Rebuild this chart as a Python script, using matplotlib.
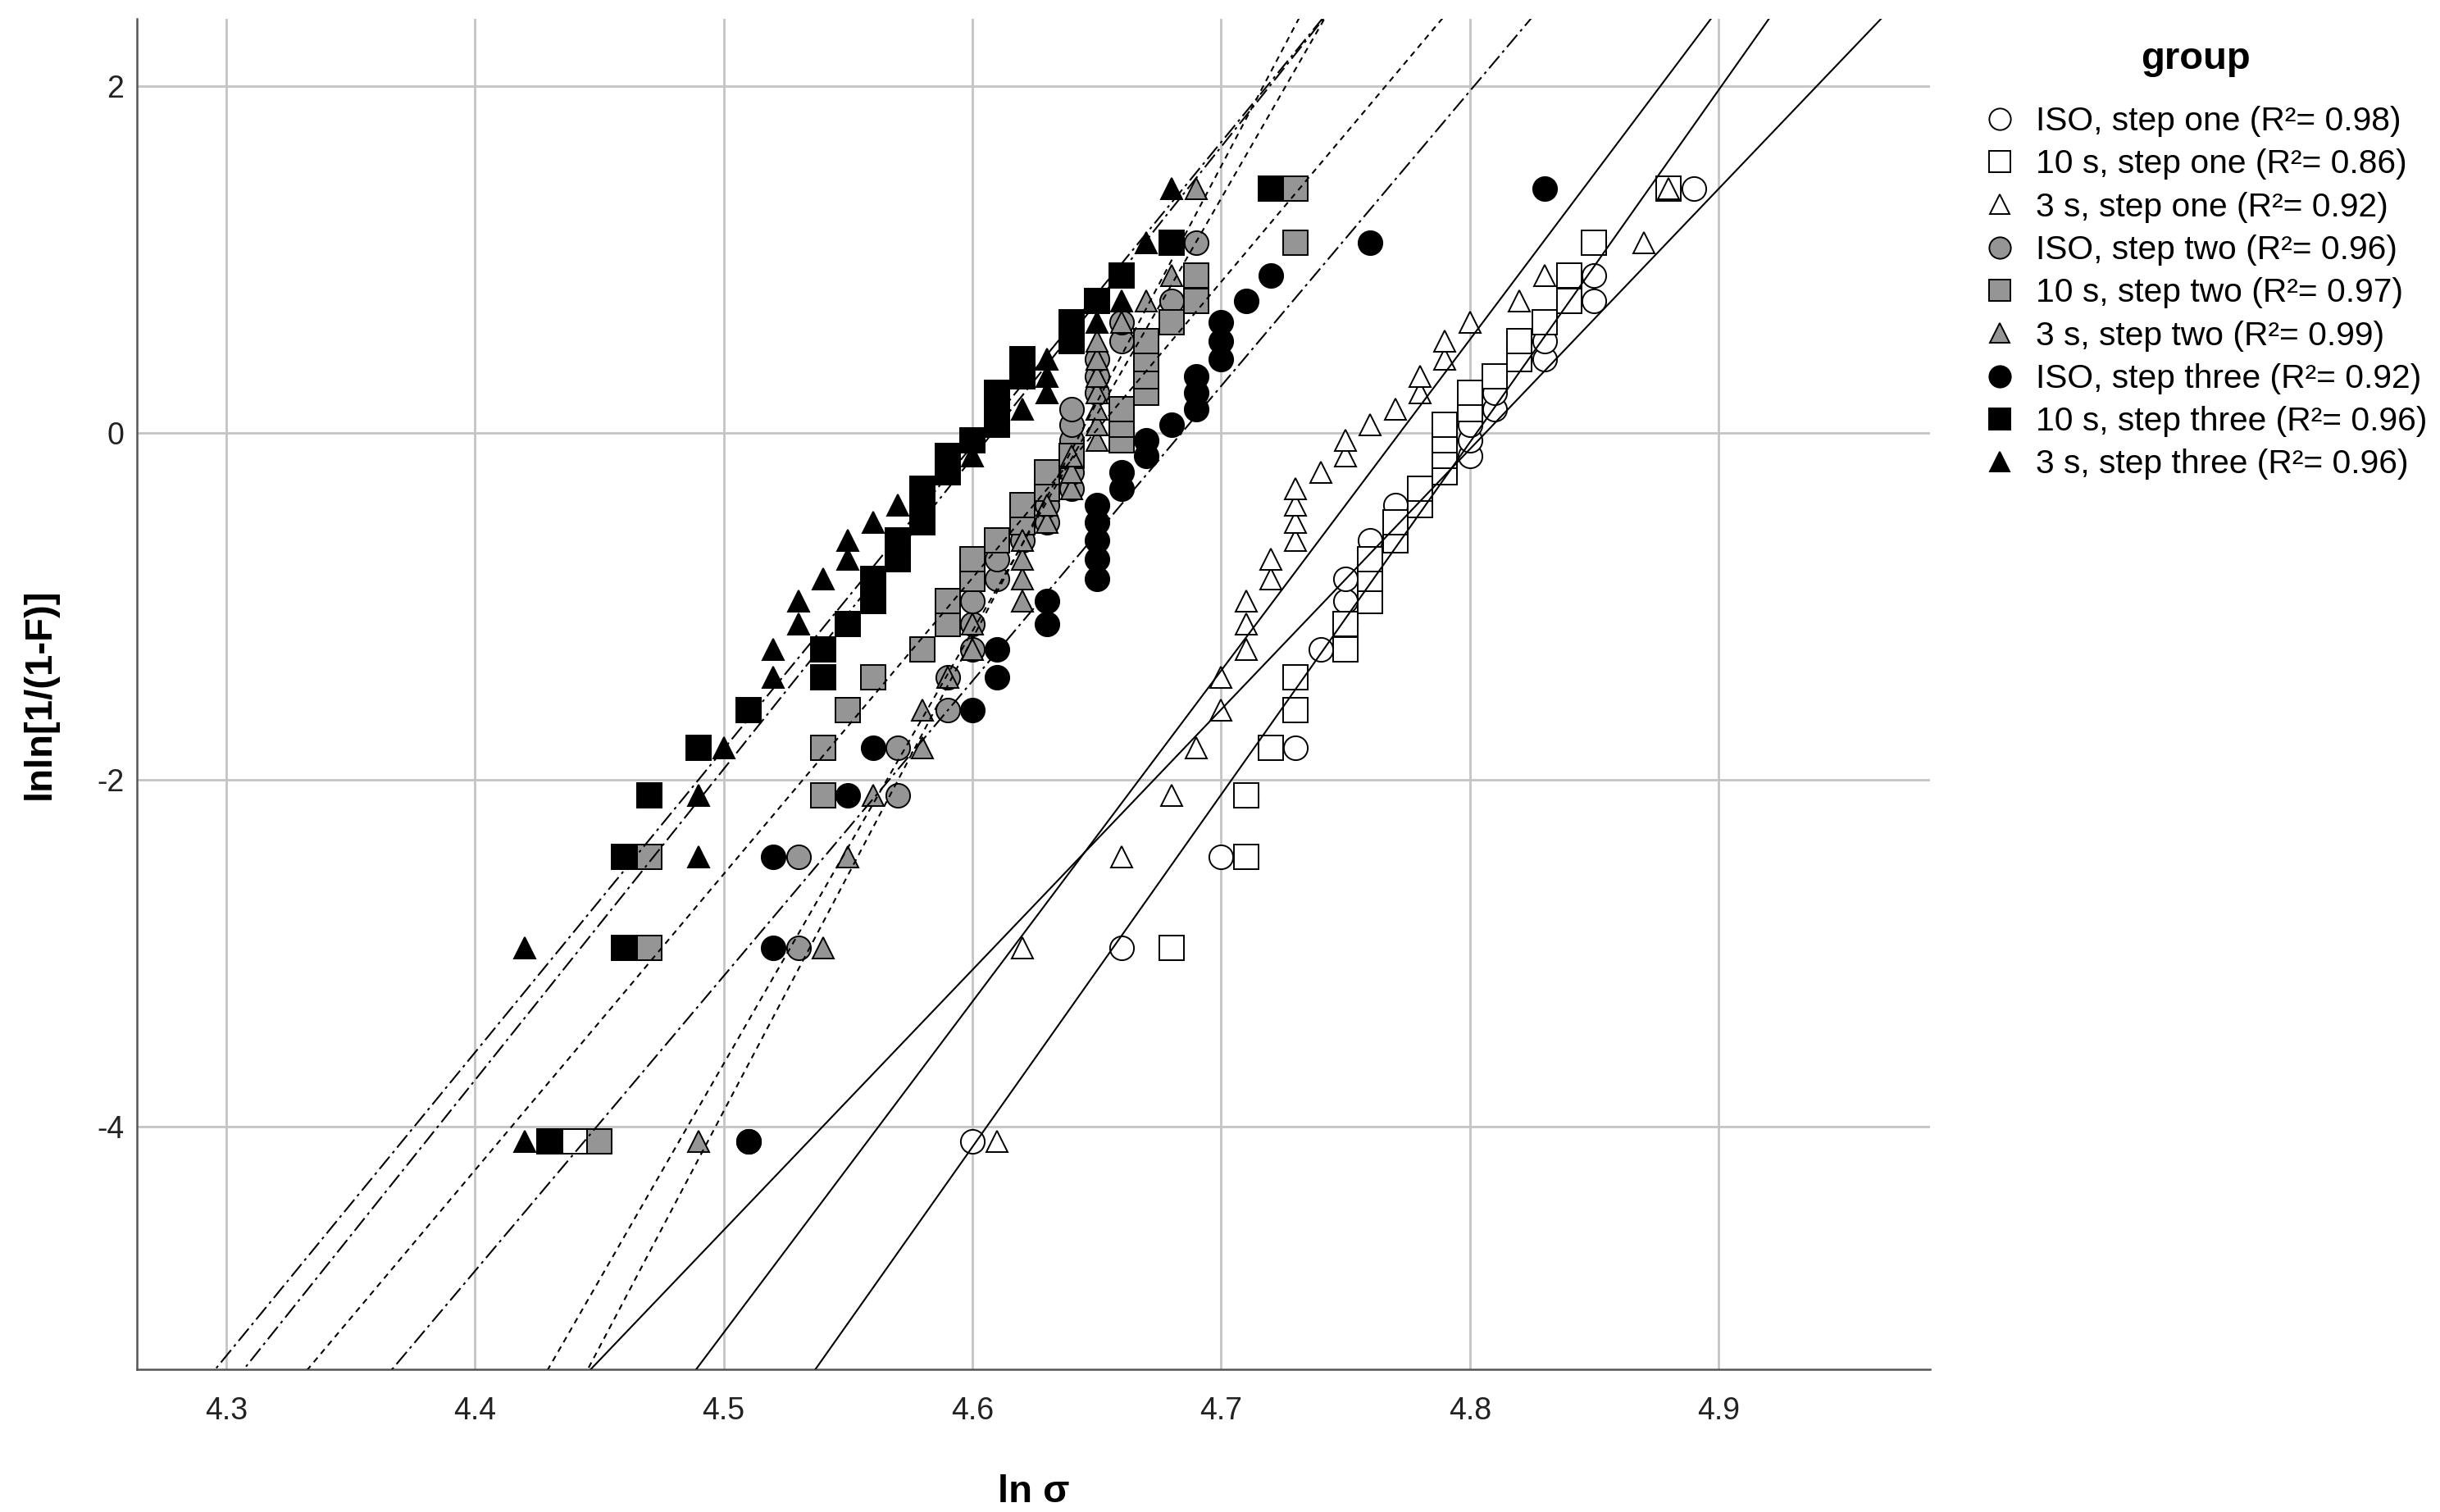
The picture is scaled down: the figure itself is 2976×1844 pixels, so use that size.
import numpy as np
import matplotlib.pyplot as plt
from matplotlib.lines import Line2D

plt.rcParams.update({
    "font.family": ["Liberation Sans", "DejaVu Sans"],
    "lines.scale_dashes": False,
    "axes.unicode_minus": False,
})

# plotting positions lnln[1/(1-F)] of ranks 1..30
y_levels = [-4.086, -2.970, -2.442, -2.087, -1.817, -1.597, -1.410, -1.246,
            -1.099, -0.966, -0.842, -0.727, -0.618, -0.514, -0.415, -0.319,
            -0.225, -0.133, -0.042, 0.049, 0.140, 0.232, 0.327, 0.425,
            0.529, 0.640, 0.765, 0.910, 1.097, 1.410]

# ln sigma per rank, one list per group
iso_one = [4.60, 4.66, 4.70, 4.71, 4.73, 4.73, 4.73, 4.74, 4.75, 4.75,
           4.75, 4.76, 4.76, 4.77, 4.77, 4.78, 4.79, 4.80, 4.80, 4.80,
           4.81, 4.81, 4.81, 4.83, 4.83, 4.83, 4.85, 4.85, 4.85, 4.89]
s10_one = [4.44, 4.68, 4.71, 4.71, 4.72, 4.73, 4.73, 4.75, 4.75, 4.76,
           4.76, 4.76, 4.77, 4.77, 4.78, 4.78, 4.79, 4.79, 4.79, 4.79,
           4.80, 4.80, 4.81, 4.82, 4.82, 4.83, 4.84, 4.84, 4.85, 4.88]
s3_one = [4.61, 4.62, 4.66, 4.68, 4.69, 4.70, 4.70, 4.71, 4.71, 4.71,
          4.72, 4.72, 4.73, 4.73, 4.73, 4.73, 4.74, 4.75, 4.75, 4.76,
          4.77, 4.78, 4.78, 4.79, 4.79, 4.80, 4.82, 4.83, 4.87, 4.88]
iso_two = [4.51, 4.53, 4.53, 4.57, 4.57, 4.59, 4.59, 4.60, 4.60, 4.60,
           4.61, 4.61, 4.62, 4.63, 4.63, 4.64, 4.64, 4.64, 4.64, 4.64,
           4.64, 4.65, 4.65, 4.65, 4.66, 4.66, 4.68, 4.69, 4.69, 4.73]
s10_two = [4.45, 4.47, 4.47, 4.54, 4.54, 4.55, 4.56, 4.58, 4.59, 4.59,
           4.60, 4.60, 4.61, 4.62, 4.62, 4.63, 4.63, 4.64, 4.66, 4.66,
           4.66, 4.67, 4.67, 4.67, 4.67, 4.68, 4.69, 4.69, 4.73, 4.73]
s3_two = [4.49, 4.54, 4.55, 4.56, 4.58, 4.58, 4.59, 4.60, 4.60, 4.62,
          4.62, 4.62, 4.62, 4.63, 4.63, 4.64, 4.64, 4.64, 4.65, 4.65,
          4.65, 4.65, 4.65, 4.65, 4.65, 4.66, 4.67, 4.68, 4.68, 4.69]
iso_three = [4.51, 4.52, 4.52, 4.55, 4.56, 4.60, 4.61, 4.61, 4.63, 4.63,
             4.65, 4.65, 4.65, 4.65, 4.65, 4.66, 4.66, 4.67, 4.67, 4.68,
             4.69, 4.69, 4.69, 4.70, 4.70, 4.70, 4.71, 4.72, 4.76, 4.83]
s10_three = [4.43, 4.46, 4.46, 4.47, 4.49, 4.51, 4.54, 4.54, 4.55, 4.56,
             4.56, 4.57, 4.57, 4.58, 4.58, 4.58, 4.59, 4.59, 4.60, 4.61,
             4.61, 4.61, 4.62, 4.62, 4.64, 4.64, 4.65, 4.66, 4.68, 4.72]
s3_three = [4.42, 4.42, 4.49, 4.49, 4.50, 4.51, 4.52, 4.52, 4.53, 4.53,
            4.54, 4.55, 4.55, 4.56, 4.57, 4.58, 4.59, 4.60, 4.60, 4.61,
            4.62, 4.63, 4.63, 4.63, 4.64, 4.65, 4.66, 4.66, 4.67, 4.68]

group_labels = [
    "ISO, step one (R\u00b2= 0.98)",
    "10 s, step one (R\u00b2= 0.86)",
    "3 s, step one (R\u00b2= 0.92)",
    "ISO, step two (R\u00b2= 0.96)",
    "10 s, step two (R\u00b2= 0.97)",
    "3 s, step two (R\u00b2= 0.99)",
    "ISO, step three (R\u00b2= 0.92)",
    "10 s, step three (R\u00b2= 0.96)",
    "3 s, step three (R\u00b2= 0.96)",
]
group_data = [iso_one, s10_one, s3_one, iso_two, s10_two, s3_two,
              iso_three, s10_three, s3_three]

GRAY = "#959595"
markers = ["o", "s", "^"] * 3
fills = ["white"] * 3 + [GRAY] * 3 + ["black"] * 3
sizes = {"o": 10.5, "s": 10.5, "^": 9.5}
step_ls = ["-"] * 3 + [(0, (2.6, 2.2))] * 3 + [(0, (7, 2, 1.2, 2))] * 3

fig = plt.figure(figsize=(14.88, 9.22), dpi=200)
ax = fig.add_axes([0.056, 0.0944, 0.735, 0.8931])

xlim = (4.264, 4.985)
ylim = (-5.40, 2.39)

for xs, mk, fc in zip(group_data, markers, fills):
    ax.plot(xs, y_levels, linestyle="none", marker=mk, markersize=sizes[mk],
            markerfacecolor=fc, markeredgecolor="black", markeredgewidth=0.7,
            zorder=3)

# least-squares fit line of each group, drawn across the whole plot
xx = np.array([4.0, 5.2])
for xs, ls in zip(group_data, step_ls):
    b, a = np.polyfit(xs, y_levels, 1)
    ax.plot(xx, a + b * xx, color="black", linestyle=ls, linewidth=0.75,
            zorder=4)

ax.set_xlim(*xlim)
ax.set_ylim(*ylim)
ax.set_xticks([4.3, 4.4, 4.5, 4.6, 4.7, 4.8, 4.9])
ax.set_yticks([-4, -2, 0, 2])
ax.tick_params(length=0, labelsize=13.5, colors="#222222")
ax.tick_params(axis="x", pad=12)
ax.tick_params(axis="y", pad=5.5)
ax.grid(True, color="#c4c4c4", linewidth=1.0)
ax.set_axisbelow(True)
for side in ("top", "right"):
    ax.spines[side].set_visible(False)
for side in ("left", "bottom"):
    ax.spines[side].set_color("#555555")
    ax.spines[side].set_linewidth(0.9)

ax.set_xlabel("ln \u03c3", fontsize=17, fontweight="bold", labelpad=21)
ax.set_ylabel("lnln[1/(1-F)]", fontsize=17, fontweight="bold", labelpad=17)

handles = [Line2D([], [], linestyle="none", marker=mk, markersize=sizes[mk] * 0.9,
                  markerfacecolor=fc, markeredgecolor="black",
                  markeredgewidth=0.7)
           for mk, fc in zip(markers, fills)]
leg = fig.legend(handles, group_labels, loc="upper left",
                 bbox_to_anchor=(0.8127, 0.930), frameon=False,
                 fontsize=14.7, handletextpad=0.57, borderpad=0,
                 borderaxespad=0, labelspacing=0.35, handlelength=1.0)
fig.text(0.900, 0.961, "group", fontsize=17, fontweight="bold",
         ha="center", va="center")

fig.savefig("out.png", dpi=200)
